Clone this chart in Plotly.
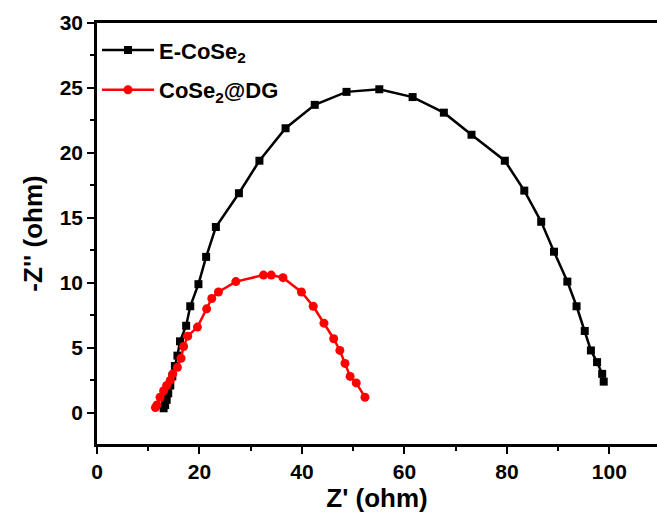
import plotly.graph_objects as go

# E-CoSe2 (black squares)
e_x = [13.0, 13.3, 13.6, 13.9, 14.3, 14.7, 15.2, 15.7, 16.2, 17.4, 18.2, 19.8, 21.3, 23.2, 27.7, 31.7, 36.8,
       42.5, 48.7, 55.1, 61.6, 67.7, 73.1, 79.6, 83.4, 86.7, 89.2, 91.8, 93.6, 95.2, 96.4, 97.6, 98.6, 98.9]
e_y = [0.35, 0.6, 1.0, 1.5, 2.1, 2.8, 3.6, 4.4, 5.5, 6.7, 8.2, 9.9, 12.0, 14.3, 16.9, 19.4, 21.9,
       23.7, 24.7, 24.9, 24.3, 23.1, 21.4, 19.4, 17.1, 14.7, 12.4, 10.1, 8.2, 6.3, 4.8, 3.9, 3.0, 2.4]

# CoSe2@DG (red circles)
d_x = [11.4, 11.7, 12.3, 13.0, 13.6, 14.3, 14.8, 15.7, 16.4, 16.9, 17.7, 19.6, 21.4, 22.4, 23.7, 27.1,
       32.5, 34.0, 36.3, 39.9, 42.2, 44.3, 46.2, 47.4, 48.4, 49.4, 50.6, 52.3]
d_y = [0.4, 0.6, 1.2, 1.7, 2.1, 2.5, 3.0, 3.5, 4.2, 5.1, 5.9, 6.6, 8.0, 8.8, 9.3, 10.1,
       10.6, 10.6, 10.4, 9.3, 8.2, 6.9, 5.7, 4.8, 3.8, 2.8, 2.3, 1.2]

series_names = ["E-CoSe<sub>2</sub>", "CoSe<sub>2</sub>@DG"]

FONT = "Liberation Sans, Arial, sans-serif"

fig = go.Figure()
fig.add_trace(go.Scatter(
    x=e_x, y=e_y, mode="lines+markers", name=series_names[0], legendgroup="a",
    line=dict(color="black", width=2.5),
    marker=dict(symbol="square", size=8, color="black"),
))
fig.add_trace(go.Scatter(
    x=d_x, y=d_y, mode="lines+markers", name=series_names[1], legendgroup="b",
    line=dict(color="#ff0000", width=2.5),
    marker=dict(symbol="circle", size=9, color="#ff0000"),
))

axis_common = dict(
    showline=True, linecolor="black", linewidth=2.5,
    ticks="outside", tickcolor="black", tickwidth=2, ticklen=7,
    showgrid=False, zeroline=False,
    tickfont=dict(family=FONT, size=21, color="black", weight="bold"),
)

fig.update_xaxes(
    range=[0, 109.3], dtick=20, tick0=0, mirror=True,
    minor=dict(ticks="outside", dtick=10, ticklen=4, tickwidth=2, tickcolor="black"),
    title=dict(text="Z' (ohm)", font=dict(family=FONT, size=26, color="black", weight="bold"), standoff=2),
    **axis_common,
)
fig.update_yaxes(
    range=[-2.4, 30], dtick=5, tick0=0, mirror=False,
    minor=dict(ticks="outside", dtick=2.5, ticklen=4, tickwidth=2, tickcolor="black"),
    title=dict(text="-Z'' (ohm)", font=dict(family=FONT, size=26, color="black", weight="bold"), standoff=10),
    **axis_common,
)

fig.update_layout(
    width=657, height=529,
    margin=dict(l=97, r=0, t=23, b=85),
    plot_bgcolor="white", paper_bgcolor="white",
    showlegend=True,
    legend=dict(
        x=0.0, y=0.985, xanchor="left", yanchor="top",
        bgcolor="rgba(0,0,0,0)",
        font=dict(family=FONT, size=22, color="black", weight="bold"),
        traceorder="grouped", tracegroupgap=8, itemwidth=52,
    ),
)

fig.write_html("out.html")
